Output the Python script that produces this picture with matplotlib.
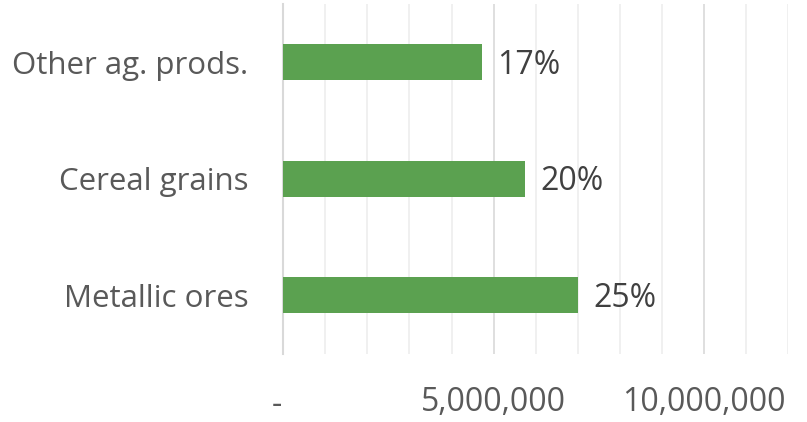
import matplotlib
matplotlib.use("Agg")
import matplotlib.pyplot as plt
from matplotlib.ticker import FixedLocator

categories = ["Metallic ores", "Cereal grains", "Other ag. prods."]
values = [7000000, 5750000, 4720000]
pct_labels = ["25%", "20%", "17%"]
major_ticks = [0, 5000000, 10000000]
major_labels = ["", "5,000,000", "10,000,000"]
zero_label = "-"
minor_step = 1000000
x_max = 12000000

plt.rcParams['font.family'] = ['Open Sans', 'DejaVu Sans']

fig = plt.figure(figsize=(8.07, 4.22), dpi=100)
ax = fig.add_axes([0.351, 0.162, 0.6255, 0.8285])

y = list(range(len(categories)))
bars = ax.barh(y, values, height=0.31, color="#5BA150", zorder=3)

for b, lab in zip(bars, pct_labels):
    ax.text(b.get_width() + 0.37e6, b.get_y() + b.get_height() / 2 - 0.025, lab,
            va="center", ha="left", fontsize=23, color="#404040")

ax.set_xlim(0, x_max)
ax.set_ylim(-0.5, len(categories) - 0.5)
ax.set_yticks(y)
ax.set_yticklabels(categories, fontsize=22.5, color="#595959")
ax.xaxis.set_major_locator(FixedLocator(major_ticks))
ax.set_xticklabels(major_labels, fontsize=23, color="#595959")
ax.xaxis.set_minor_locator(FixedLocator(list(range(0, x_max + 1, minor_step))))
ax.grid(axis="x", which="minor", color="#EEEEEE", linewidth=1.2, zorder=0)
ax.grid(axis="x", which="major", color="#D9D9D9", linewidth=1.2, zorder=1)
ax.tick_params(axis="both", which="both", length=0)
ax.tick_params(axis="y", pad=25)
ax.tick_params(axis="x", pad=23)

# zero label "-" sits slightly left of the axis origin (accounting format)
ax.text(-0.15e6, -0.147, zero_label, transform=ax.get_xaxis_transform(),
        ha="center", va="center", fontsize=23, color="#595959")

for s in ["top", "right", "bottom"]:
    ax.spines[s].set_visible(False)
ax.spines["left"].set_color("#D9D9D9")
ax.spines["left"].set_linewidth(1.5)

fig.savefig("out.png", dpi=100)
